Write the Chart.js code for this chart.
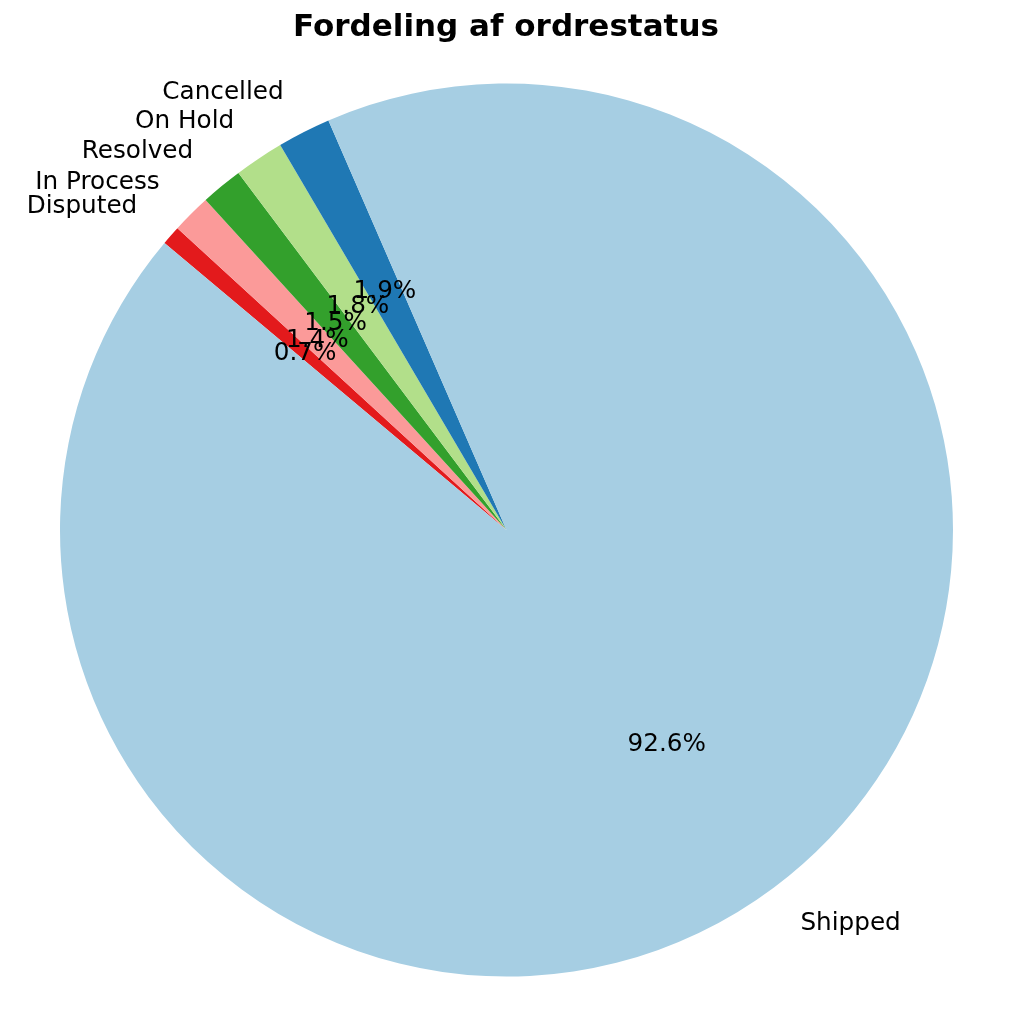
<!DOCTYPE html>
<html>
<head>
<meta charset="utf-8">
<script src="https://cdn.jsdelivr.net/npm/chart.js@4"></script>
<style>
  html, body { margin: 0; padding: 0; background: #ffffff; }
  #wrap { width: 1013px; height: 1024px; }
</style>
</head>
<body>
<div id="wrap"><canvas id="pieChart" width="1013" height="1024"></canvas></div>
<script>
// Data (matplotlib order, counter-clockwise from startangle 140)
const statusLabels = ['Shipped', 'Cancelled', 'On Hold', 'Resolved', 'In Process', 'Disputed'];
const statusShares = [92.64, 1.93, 1.79, 1.52, 1.42, 0.70];
const statusColors = ['#a6cee3', '#1f78b4', '#b2df8a', '#33a02c', '#fb9a99', '#e31a1c'];
const chartTitle = 'Fordeling af ordrestatus';

// Chart.js draws clockwise, so reverse to get the counter-clockwise look
const labelsCW = statusLabels.slice().reverse();
const sharesCW = statusShares.slice().reverse();
const colorsCW = statusColors.slice().reverse();

const FONT = '"DejaVu Sans", sans-serif';

// Outer labels + percentages, drawn like matplotlib autopct
const pieTextPlugin = {
  id: 'pieText',
  afterDatasetsDraw(chart) {
    const ctx = chart.ctx;
    const meta = chart.getDatasetMeta(0);
    const total = sharesCW.reduce((a, b) => a + b, 0);
    ctx.save();
    ctx.fillStyle = '#000000';
    ctx.font = '24.7px ' + FONT;
    ctx.textBaseline = 'middle';
    meta.data.forEach((arc, i) => {
      const mid = (arc.startAngle + arc.endAngle) / 2;
      const r = arc.outerRadius;
      const cx = arc.x, cy = arc.y;
      const lx = cx + Math.cos(mid) * r * 1.1;
      const ly = cy + Math.sin(mid) * r * 1.1;
      ctx.textAlign = Math.cos(mid) > 0 ? 'left' : 'right';
      ctx.fillText(labelsCW[i], lx, ly);
      const px = cx + Math.cos(mid) * r * 0.6;
      const py = cy + Math.sin(mid) * r * 0.6;
      ctx.textAlign = 'center';
      ctx.fillText((sharesCW[i] / total * 100).toFixed(1) + '%', px, py);
    });
    // title
    ctx.font = 'bold 31px ' + FONT;
    ctx.textAlign = 'center';
    ctx.fillText(chartTitle, 506, 28);
    ctx.restore();
  }
};

const pieChart = new Chart(document.getElementById('pieChart'), {
  type: 'pie',
  data: {
    labels: labelsCW,
    datasets: [{
      data: sharesCW,
      backgroundColor: colorsCW,
      borderWidth: 0
    }]
  },
  options: {
    responsive: false,
    devicePixelRatio: 1,
    animation: false,
    rotation: -50,
    layout: { padding: { top: 83, bottom: 47, left: 60, right: 60 } },
    plugins: {
      legend: { display: false },
      title: { display: false },
      tooltip: { enabled: false }
    }
  },
  plugins: [pieTextPlugin]
});
</script>
</body>
</html>
